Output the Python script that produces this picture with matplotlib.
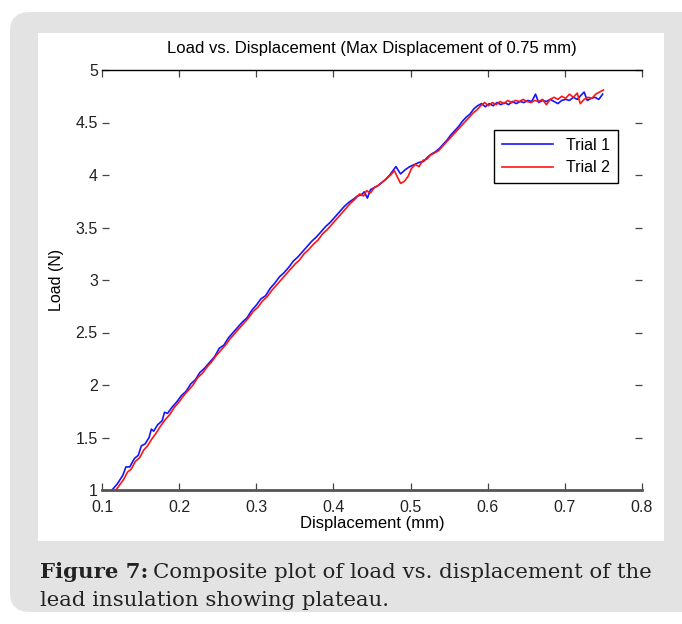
import matplotlib.pyplot as plt
from matplotlib.patches import FancyBboxPatch, Rectangle

# trial 1 (blue)
disp1 = [0.113, 0.120, 0.127, 0.131, 0.136, 0.142, 0.147, 0.151, 0.156, 0.161,
         0.164, 0.167, 0.172, 0.178, 0.181, 0.185, 0.191, 0.197, 0.203, 0.209,
         0.215, 0.221, 0.227, 0.233, 0.240, 0.246, 0.252, 0.258, 0.264, 0.270,
         0.276, 0.282, 0.288, 0.294, 0.300, 0.306, 0.312, 0.318, 0.324, 0.330,
         0.336, 0.342, 0.348, 0.354, 0.360, 0.366, 0.372, 0.378, 0.384, 0.390,
         0.396, 0.402, 0.408, 0.414, 0.420, 0.426, 0.431, 0.436, 0.440, 0.444,
         0.448, 0.453, 0.458, 0.463, 0.468, 0.473, 0.478, 0.481, 0.487, 0.493,
         0.499, 0.505, 0.511, 0.517, 0.522, 0.527, 0.532, 0.537, 0.542, 0.547,
         0.552, 0.557, 0.562, 0.567, 0.572, 0.577, 0.582, 0.587, 0.592, 0.597,
         0.602, 0.607, 0.612, 0.617, 0.622, 0.627, 0.632, 0.637, 0.642, 0.647,
         0.652, 0.657, 0.662, 0.666, 0.671, 0.676, 0.681, 0.686, 0.691, 0.696,
         0.701, 0.706, 0.711, 0.716, 0.721, 0.725, 0.729, 0.734, 0.739, 0.744,
         0.749]
load1 = [1.00, 1.06, 1.14, 1.22, 1.22, 1.30, 1.33, 1.42, 1.44, 1.50,
         1.58, 1.56, 1.62, 1.66, 1.74, 1.73, 1.79, 1.84, 1.90, 1.94,
         2.01, 2.05, 2.12, 2.16, 2.22, 2.27, 2.35, 2.38, 2.45, 2.50,
         2.55, 2.60, 2.64, 2.71, 2.76, 2.82, 2.85, 2.92, 2.97, 3.03,
         3.07, 3.12, 3.18, 3.22, 3.27, 3.32, 3.37, 3.41, 3.46, 3.51,
         3.55, 3.60, 3.65, 3.70, 3.74, 3.77, 3.80, 3.81, 3.84, 3.78,
         3.86, 3.88, 3.90, 3.93, 3.96, 4.00, 4.05, 4.08, 4.01, 4.05,
         4.08, 4.10, 4.12, 4.13, 4.17, 4.20, 4.22, 4.25, 4.29, 4.33,
         4.38, 4.42, 4.46, 4.51, 4.55, 4.58, 4.63, 4.66, 4.68, 4.65,
         4.68, 4.66, 4.69, 4.67, 4.69, 4.67, 4.70, 4.68, 4.70, 4.69,
         4.71, 4.70, 4.77, 4.69, 4.71, 4.70, 4.72, 4.70, 4.68, 4.71,
         4.72, 4.71, 4.74, 4.72, 4.76, 4.79, 4.71, 4.73, 4.74, 4.72,
         4.77]

# trial 2 (red)
disp2 = [0.118, 0.124, 0.128, 0.133, 0.138, 0.143, 0.149, 0.154, 0.159, 0.164,
         0.170, 0.176, 0.182, 0.188, 0.194, 0.200, 0.206, 0.212, 0.218, 0.224,
         0.230, 0.236, 0.242, 0.248, 0.254, 0.260, 0.266, 0.272, 0.278, 0.284,
         0.290, 0.296, 0.302, 0.308, 0.314, 0.320, 0.326, 0.332, 0.338, 0.344,
         0.350, 0.356, 0.362, 0.368, 0.374, 0.380, 0.386, 0.392, 0.398, 0.404,
         0.410, 0.416, 0.422, 0.428, 0.434, 0.439, 0.443, 0.448, 0.453, 0.458,
         0.463, 0.468, 0.474, 0.479, 0.483, 0.487, 0.492, 0.497, 0.501, 0.506,
         0.511, 0.516, 0.521, 0.526, 0.531, 0.536, 0.541, 0.546, 0.551, 0.556,
         0.561, 0.566, 0.571, 0.576, 0.581, 0.586, 0.591, 0.596, 0.601, 0.606,
         0.611, 0.616, 0.621, 0.626, 0.631, 0.636, 0.641, 0.646, 0.651, 0.656,
         0.661, 0.666, 0.671, 0.676, 0.681, 0.686, 0.691, 0.696, 0.701, 0.706,
         0.711, 0.716, 0.720, 0.725, 0.730, 0.735, 0.740, 0.745, 0.750]
load2 = [1.00, 1.06, 1.10, 1.17, 1.20, 1.27, 1.31, 1.38, 1.42, 1.48,
         1.54, 1.61, 1.67, 1.72, 1.79, 1.84, 1.90, 1.95, 2.00, 2.07,
         2.11, 2.17, 2.22, 2.28, 2.33, 2.38, 2.44, 2.49, 2.54, 2.59,
         2.64, 2.70, 2.74, 2.80, 2.84, 2.90, 2.95, 3.00, 3.05, 3.10,
         3.15, 3.19, 3.25, 3.29, 3.34, 3.38, 3.44, 3.48, 3.53, 3.58,
         3.63, 3.68, 3.73, 3.77, 3.82, 3.80, 3.85, 3.83, 3.88, 3.90,
         3.93, 3.96, 4.00, 4.04, 3.98, 3.92, 3.94, 3.99, 4.06, 4.10,
         4.08, 4.14, 4.15, 4.19, 4.21, 4.23, 4.27, 4.31, 4.35, 4.39,
         4.43, 4.47, 4.51, 4.55, 4.59, 4.62, 4.66, 4.69, 4.66, 4.69,
         4.67, 4.70, 4.68, 4.71, 4.69, 4.71, 4.70, 4.72, 4.70, 4.69,
         4.71, 4.70, 4.72, 4.67, 4.72, 4.74, 4.72, 4.75, 4.73, 4.77,
         4.74, 4.78, 4.68, 4.72, 4.74, 4.73, 4.77, 4.79, 4.81]

xticks = [0.1, 0.2, 0.3, 0.4, 0.5, 0.6, 0.7, 0.8]
yticks = [1, 1.5, 2, 2.5, 3, 3.5, 4, 4.5, 5]
ytick_labels = ['1', '1.5', '2', '2.5', '3', '3.5', '4', '4.5', '5']

W, H = 682, 624
fig = plt.figure(figsize=(W / 100, H / 100), dpi=100)
fig.patch.set_facecolor('white')

# grey card with rounded corners, white panel inside (behind the axes)
card = FancyBboxPatch((10 / W, 12 / H), 700 / W, 600 / H,
                      boxstyle='round,pad=0,rounding_size=0.03',
                      transform=fig.transFigure, facecolor='#e3e3e3',
                      edgecolor='none', zorder=-3)
fig.patches.append(card)
panel = Rectangle((38 / W, 1 - 541 / H), (664 - 38) / W, (541 - 33) / H,
                  transform=fig.transFigure, facecolor='white',
                  edgecolor='none', zorder=-2)
fig.patches.append(panel)

ax = fig.add_axes([102 / W, 1 - 490 / H, 540 / W, 420 / H])
ax.set_facecolor('none')
ax.plot(disp1, load1, color='#1414ff', lw=1.2, label='Trial 1')
ax.plot(disp2, load2, color='#ff1414', lw=1.2, label='Trial 2')

ax.set_xlim(0.1, 0.8)
ax.set_ylim(1, 5)
ax.set_xticks(xticks)
ax.set_xticklabels([str(v) for v in xticks])
ax.set_yticks(yticks)
ax.set_yticklabels(ytick_labels)

font = 'Liberation Sans'
for lab in ax.get_xticklabels() + ax.get_yticklabels():
    lab.set_fontfamily(font)
    lab.set_fontsize(11.5)
    lab.set_color('#222222')

ax.tick_params(direction='in', length=5, width=0.9, top=True, right=True,
               color='#444444')
ax.tick_params(axis='x', pad=7)
ax.tick_params(axis='y', pad=3)
ax.spines['left'].set_visible(False)
ax.spines['right'].set_visible(False)
ax.spines['top'].set_linewidth(1.0)
ax.spines['bottom'].set_linewidth(2.0)
ax.spines['bottom'].set_color('#555555')

ax.set_title('Load vs. Displacement (Max Displacement of 0.75 mm)',
             fontfamily=font, fontsize=12, pad=12)
ax.set_xlabel('Displacement (mm)', fontfamily=font, fontsize=12, labelpad=1)
ax.set_ylabel('Load (N)', fontfamily=font, fontsize=11.5, labelpad=8)

leg = ax.legend(loc='upper right', bbox_to_anchor=(0.956, 0.857),
                prop={'family': font, 'size': 11.5}, fancybox=False,
                framealpha=1, edgecolor='black', borderaxespad=0,
                handlelength=3.2, labelspacing=0.45, borderpad=0.5)
leg.get_frame().set_linewidth(1.0)

# caption
cap_font = 'DejaVu Serif'
cap_size = 15.3
bold = fig.text(40 / W, 1 - 572 / H, 'Figure 7:', fontfamily=cap_font,
                fontweight='bold', fontsize=cap_size, va='center', color='#222222')
fig.canvas.draw()
bb = bold.get_window_extent()
fig.text((bb.x1 + 5) / W, 1 - 572 / H,
         'Composite plot of load vs. displacement of the',
         fontfamily=cap_font, fontsize=cap_size, va='center', color='#222222')
fig.text(40 / W, 1 - 600 / H, 'lead insulation showing plateau.',
         fontfamily=cap_font, fontsize=cap_size, va='center', color='#222222')

fig.savefig('out.png', dpi=100, facecolor=fig.get_facecolor())
